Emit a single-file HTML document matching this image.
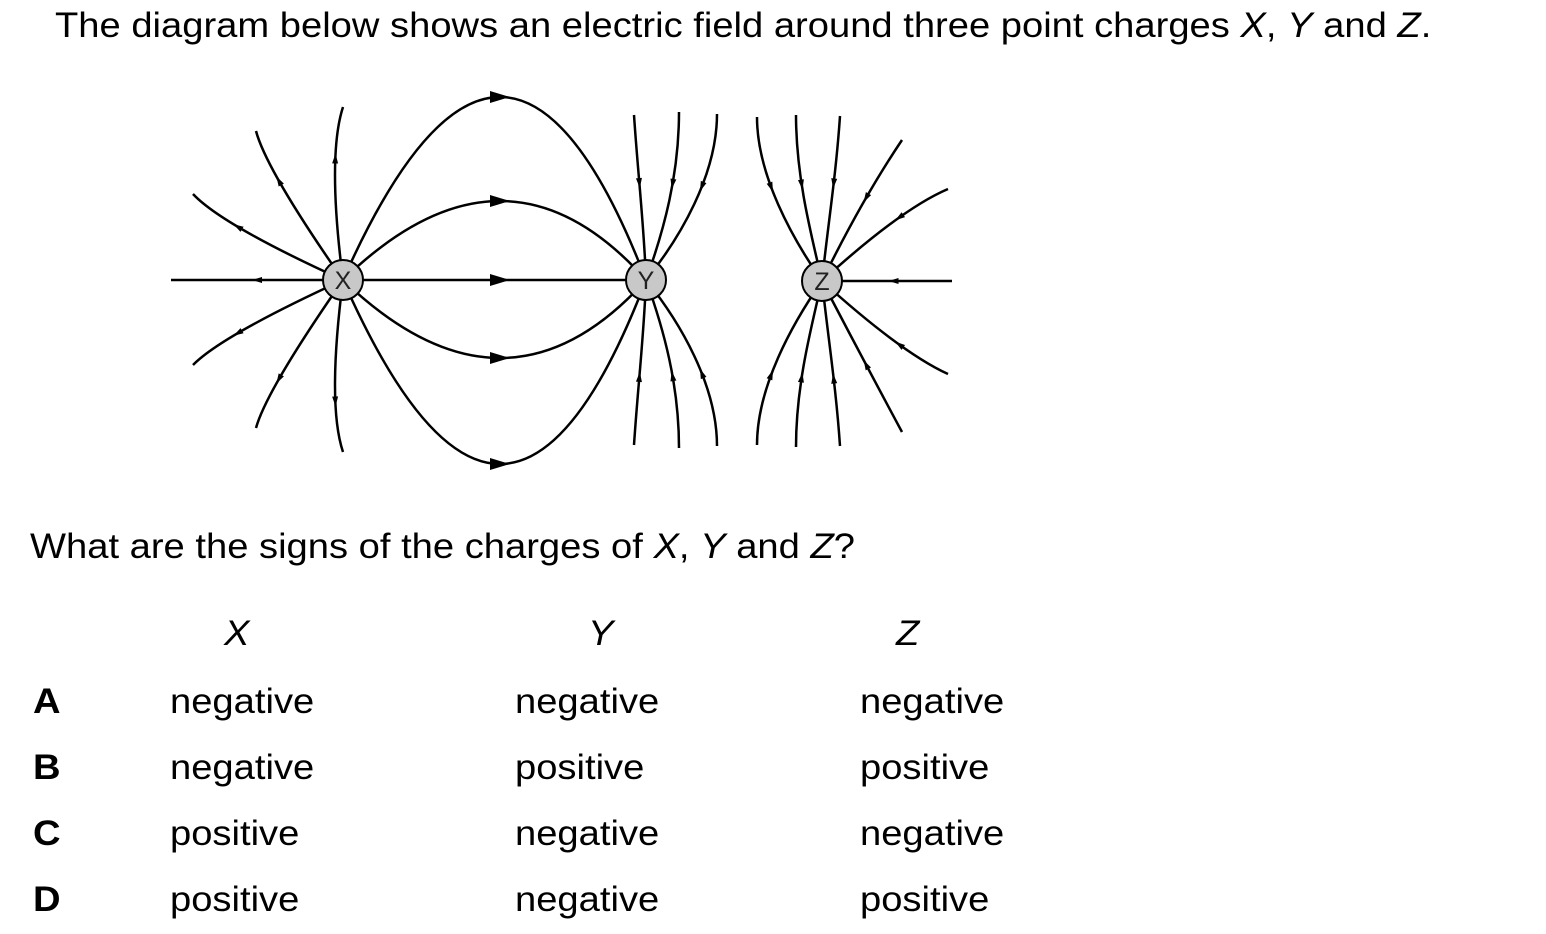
<!DOCTYPE html>
<html><head><meta charset="utf-8"><style>
body{margin:0;width:1546px;height:934px;background:#fff;font-family:"Liberation Sans",Arial,sans-serif;color:#000;position:relative;overflow:hidden}
.t{position:absolute;white-space:nowrap;font-size:35px;line-height:1;transform:scaleX(1.09);transform-origin:0 0}
i{font-style:italic}
b{font-weight:bold}
</style></head><body>
<div class="t" style="left:55px;top:8px;">The diagram below shows an electric field around three point charges <i>X</i>, <i>Y</i> and <i>Z</i>.</div>
<svg id="s" width="1546" height="934" style="position:absolute;left:0;top:0"></svg>
<div class="t" style="left:30px;top:529px;">What are the signs of the charges of <i>X</i>, <i>Y</i> and <i>Z</i>?</div>
<div class="t" style="left:224px;top:616px;"><i>X</i></div>
<div class="t" style="left:588px;top:616px;"><i>Y</i></div>
<div class="t" style="left:896px;top:616px;"><i>Z</i></div>
<div class="t" style="left:33px;top:684px;"><b>A</b></div>
<div class="t" style="left:33px;top:750px;"><b>B</b></div>
<div class="t" style="left:33px;top:816px;"><b>C</b></div>
<div class="t" style="left:33px;top:882px;"><b>D</b></div>
<div class="t" style="left:170px;top:684px;">negative</div>
<div class="t" style="left:170px;top:750px;">negative</div>
<div class="t" style="left:170px;top:816px;">positive</div>
<div class="t" style="left:170px;top:882px;">positive</div>
<div class="t" style="left:515px;top:684px;">negative</div>
<div class="t" style="left:515px;top:750px;">positive</div>
<div class="t" style="left:515px;top:816px;">negative</div>
<div class="t" style="left:515px;top:882px;">negative</div>
<div class="t" style="left:860px;top:684px;">negative</div>
<div class="t" style="left:860px;top:750px;">positive</div>
<div class="t" style="left:860px;top:816px;">negative</div>
<div class="t" style="left:860px;top:882px;">positive</div>
<script>
var s=document.getElementById('s'),h='';
var X=[343,280],Y=[646,280],Z=[822,281];
function tri(px,py,dx,dy,sz){
 var ang=Math.atan2(dy,dx)*180/Math.PI;
 h+='<polygon points="'+(sz)+',0 '+(-sz)+','+(-sz*0.6)+' '+(-sz)+','+(sz*0.6)+'" transform="translate('+px+','+py+') rotate('+ang+')"/>';
}
function L(a,m,e,t,sz){
 var c=[2*m[0]-(a[0]+e[0])/2,2*m[1]-(a[1]+e[1])/2];
 h+='<path d="M'+a[0]+' '+a[1]+' Q'+c[0]+' '+c[1]+' '+e[0]+' '+e[1]+'" fill="none" stroke="#000" stroke-width="2.5"/>';
 var u=1-t,px=u*u*a[0]+2*u*t*c[0]+t*t*e[0],py=u*u*a[1]+2*u*t*c[1]+t*t*e[1];
 var dx=2*u*(c[0]-a[0])+2*t*(e[0]-c[0]),dy=2*u*(c[1]-a[1])+2*t*(e[1]-c[1]);
 tri(px,py,dx,dy,sz);
}
// cubic from far end a to charge e (inward)
function K(a,c2,c1,e,t){
 h+='<path d="M'+a[0]+' '+a[1]+' C'+c2[0]+' '+c2[1]+' '+c1[0]+' '+c1[1]+' '+e[0]+' '+e[1]+'" fill="none" stroke="#000" stroke-width="2.5"/>';
 var u=1-t;
 var px=u*u*u*a[0]+3*u*u*t*c2[0]+3*u*t*t*c1[0]+t*t*t*e[0];
 var py=u*u*u*a[1]+3*u*u*t*c2[1]+3*u*t*t*c1[1]+t*t*t*e[1];
 var dx=3*u*u*(c2[0]-a[0])+6*u*t*(c1[0]-c2[0])+3*t*t*(e[0]-c1[0]);
 var dy=3*u*u*(c2[1]-a[1])+6*u*t*(c1[1]-c2[1])+3*t*t*(e[1]-c1[1]);
 tri(px,py,dx,dy,5);
}
// X outward
L(X,[257,280],[171,280],0.5,5);
L(X,[245,231],[193,194],0.55,5);
L(X,[283,188],[256,131],0.55,5);
L(X,[335,175],[343,107],0.6,5);
L(X,[245,329],[193,365],0.55,5);
L(X,[283,372],[256,428],0.55,5);
L(X,[335,385],[343,452],0.6,5);
// X to Y
L(X,[500,97],Y,0.5,10);
L(X,[500,201],Y,0.5,10);
L(X,[500,280],Y,0.5,10);
L(X,[500,358],Y,0.5,10);
L(X,[500,464],Y,0.5,10);
function mir(p,c){return [p[0],2*c[1]-p[1]];}
// Y inward (vertical-ish)
[[[634,115],[638,175],[644,225]],[[679,112],[679,175],[664,230]],[[717,114],[717,175],[680,238]]].forEach(function(p){
 K(p[0],p[1],p[2],Y,0.4);K(mir(p[0],Y),mir(p[1],Y),mir(p[2],Y),Y,0.4);});
// Z inward
[[[757,117],[757,175],[792,238]],[[796,115],[796,175],[810,230]],[[840,116],[836,175],[828,225]]].forEach(function(p){
 K(p[0],p[1],p[2],Z,0.4);K(mir(p[0],Z),mir(p[1],Z),mir(p[2],Z),Z,0.4);});
[[[862,205],[902,140]],[[893,222],[948,189]],[[887,281],[952,281]],[[893,340],[948,374]],[[862,357],[902,432]]].forEach(function(p){L(p[1],p[0],Z,0.45,5)});
function C(p,l){h+='<circle cx="'+p[0]+'" cy="'+p[1]+'" r="20" fill="#c8c8c8" stroke="#000" stroke-width="2"/><text x="'+p[0]+'" y="'+(p[1]+9)+'" text-anchor="middle" font-family="Liberation Sans,sans-serif" font-size="25" fill="#222">'+l+'</text>';}
C(X,'X');C(Y,'Y');C(Z,'Z');
s.innerHTML=h;
</script>
</body></html>
